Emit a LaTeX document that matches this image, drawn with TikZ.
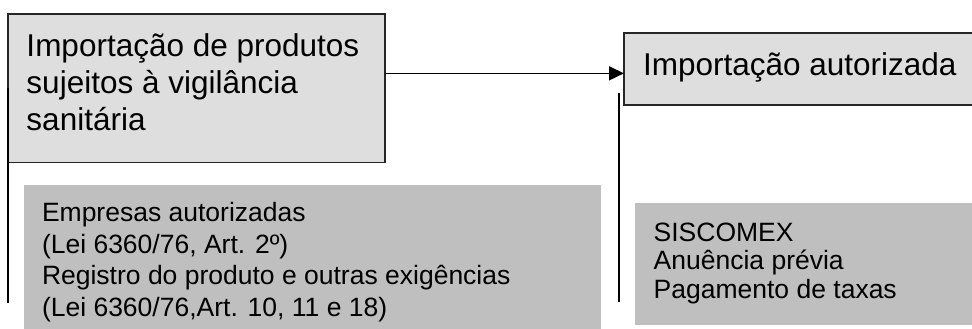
\documentclass[tikz,border=0pt]{standalone}
\usepackage{fontspec}
\setmainfont{Liberation Sans}
\usetikzlibrary{arrows.meta, positioning}

\begin{document}
\begin{tikzpicture}[
            x=1pt,
            y=-1pt,
            every node/.style={
                    inner sep=0pt,
                    outer sep=0pt
                },
            main box/.style={
                    draw=black!85,
                    line width=1.5pt,
                    fill=black!13,
                    anchor=north west
                },
            note box/.style={
                    fill=black!25,
                    anchor=north west
                },
            big text/.style={
                    font=\fontsize{31.5}{37}\selectfont,
                    align=left,
                    anchor=base west
                },
            small text/.style={
                    font=\fontsize{26.5}{31.5}\selectfont,
                    align=left,
                    anchor=base west
                },
            flow arrow/.style={
                    line width=1.5pt,
                    -{Triangle[length=15pt, width=14pt]}
                },
            side line/.style={
                    draw=black,
                    line width=1.7pt
                }
        ]

        \useasboundingbox (0,0) rectangle (972,329);
        \clip (0,0) rectangle (972,329);

        % Boxes
        \node[main box, minimum width=377pt, minimum height=148.7pt] (imp) at (8,14) {};
        \node[main box, minimum width=366pt, minimum height=72pt] (aut) at (624,33) {};
        \node[note box, minimum width=576.7pt, minimum height=160pt] (req) at (24,185) {};
        \node[note box, minimum width=355pt, minimum height=121.7pt] (sis) at (635,203.3) {};

        % Texts (base = last line)
        \node[big text] (imp text) at ([xshift=18.5pt, yshift=-116pt]imp.north west)
            {Importação de produtos\\sujeitos à vigilância\\sanitária};
        \node[big text] (aut text) at ([xshift=19pt, yshift=-42pt]aut.north west)
            {Importação autorizada};
        \node[small text] (req text) at ([xshift=18pt, yshift=-131.2pt]req.north west)
            {Empresas autorizadas\\(Lei 6360/76, Art. 2º)\\Registro do produto e outras exigências\\(Lei 6360/76,Art. 10, 11 e 18)};
        \node[small text, font=\fontsize{26.5}{28.5}\selectfont] (sis text) at ([xshift=18.7pt, yshift=-94.7pt]sis.north west)
            {SISCOMEX\\Anuência prévia\\Pagamento de taxas};

        % Connections
        \draw[flow arrow] ([yshift=15pt]imp.east) -- ([yshift=15pt]imp.east -| aut.west);

        \coordinate (imp foot) at (8,303);
        \draw[side line] (imp.west) -- (imp foot);

        \coordinate (aut top) at (619,93);
        \coordinate (aut foot) at (619,302);
        \draw[side line] (aut top) -- (aut foot);

    \end{tikzpicture}
\end{document}
